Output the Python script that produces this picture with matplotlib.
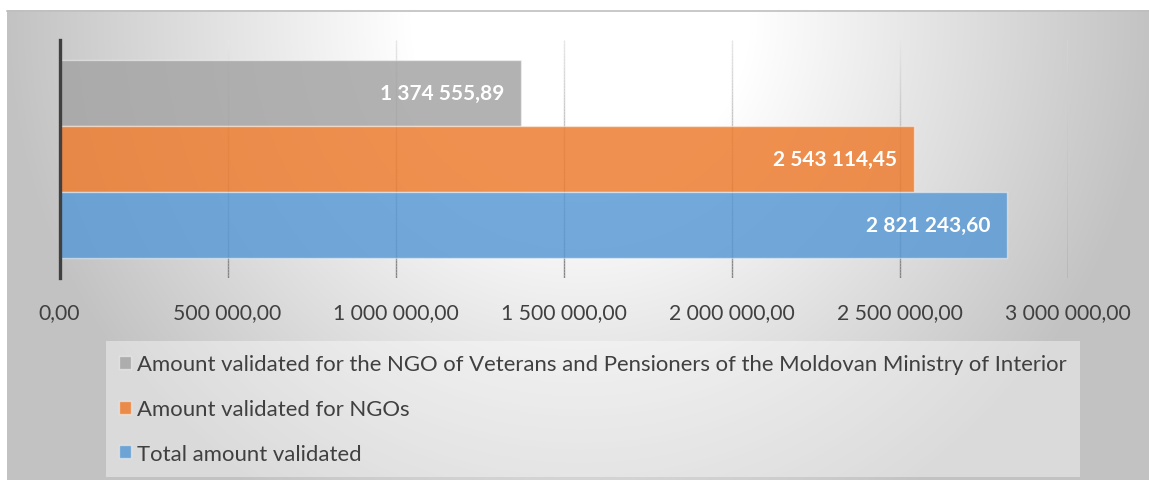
import numpy as np
import matplotlib
matplotlib.use("Agg")
import matplotlib.pyplot as plt
from matplotlib.ticker import FuncFormatter, MultipleLocator
from matplotlib.collections import LineCollection
from matplotlib.lines import Line2D
from matplotlib.colors import to_rgba

# ---- data ----
series_labels = [
    "Amount validated for the NGO of Veterans and Pensioners of the Moldovan Ministry of Interior",
    "Amount validated for NGOs",
    "Total amount validated",
]
values = [1374555.89, 2543114.45, 2821243.60]
colors = ["#A5A5A5", "#ED7D31", "#5B9BD5"]
x_max = 3000000
x_step = 500000

plt.rcParams["font.family"] = ["Lato", "DejaVu Sans"]

W, H = 1149, 481
fig = plt.figure(figsize=(W / 100, H / 100), dpi=100)
fig.patch.set_facecolor("white")


def fmt_num(v, pos=None):
    s = f"{v:,.2f}"
    return s.replace(",", " ").replace(".", ",")


# ---- radial gradient chart-area background ----
bg = fig.add_axes([7 / W, 0, 1 - 7 / W, (H - 11) / H], zorder=-10)
hh, ww = H - 11, W - 7
yy, xx = np.mgrid[0:hh, 0:ww]
dist = np.hypot(xx + 7 - 580, yy + 11 - 20)
v = np.clip(255 - 0.15 * np.maximum(dist - 170, 0), 194, 255) / 255
bg.imshow(np.dstack([v, v, v]), aspect="auto", interpolation="bilinear")
bg.axis("off")
fig.add_artist(Line2D([7 / W, 1], [(H - 11.5) / H] * 2, color="#bfbfbf", lw=1.2))

# ---- main axes ----
ax = fig.add_axes([59.5 / W, (H - 279) / H, 1008 / W, 238 / H])
ax.patch.set_alpha(0)
n = len(values)
ys = np.arange(n)[::-1]
ax.set_xlim(0, x_max)
ax.set_ylim(-0.8, n - 1 + 0.8)

bars = []
for y, val, c, lab in zip(ys, values, colors, series_labels):
    b = ax.barh(y, val, height=1.0, color=to_rgba(c, 0.85),
                edgecolor=(1, 1, 1, 0.45), linewidth=1.0, zorder=2, label=lab)
    bars.append(b)
    ax.annotate(fmt_num(val), xy=(val, y), xytext=(-12.5, 0),
                textcoords="offset points", ha="right", va="center",
                color="white", fontweight="bold", fontsize=15, zorder=4)

# gradient gridlines (light at top, dark at bottom)
ax.xaxis.set_major_locator(MultipleLocator(x_step))
y0, y1 = ax.get_ylim()
ny = 80
yseg = np.linspace(y0, y1, ny + 1)
segs, cols = [], []
for t in np.arange(x_step, x_max + 1, x_step):
    for k in range(ny):
        segs.append([(t, yseg[k]), (t, yseg[k + 1])])
        g = 0.52 + (0.90 - 0.52) * (k / (ny - 1))
        cols.append((g, g, g, 1))
ax.add_collection(LineCollection(segs, colors=cols, linewidths=1.0, zorder=1))

for s in ["top", "right", "bottom"]:
    ax.spines[s].set_visible(False)
ax.spines["left"].set_color("#404040")
ax.spines["left"].set_linewidth(2.4)
ax.spines["left"].set_zorder(3)
ax.set_yticks([])
ax.xaxis.set_major_formatter(FuncFormatter(fmt_num))
ax.tick_params(axis="x", length=0, pad=17, labelsize=15.2, labelcolor="#404040")

# ---- legend ----
leg = fig.legend(handles=bars, labels=series_labels, loc="upper left",
                 bbox_to_anchor=(106 / W, 1 - 342 / H), bbox_transform=fig.transFigure,
                 fontsize=15.9, labelcolor="#404040", frameon=True, fancybox=False,
                 facecolor="white", framealpha=0.4, edgecolor="none",
                 handlelength=0.52, handleheight=0.52, handletextpad=0.3,
                 labelspacing=1.12, borderpad=0.6, borderaxespad=0)
leg.get_frame().set_linewidth(0)

fig.savefig("out.png", dpi=100, facecolor="white")
